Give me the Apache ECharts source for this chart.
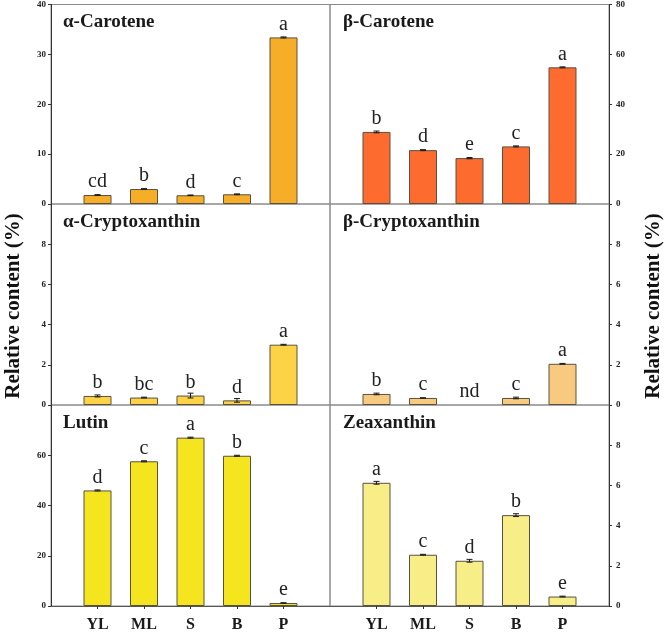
<!DOCTYPE html>
<html>
<head>
<meta charset="utf-8">
<script src="https://cdn.jsdelivr.net/npm/echarts@6/dist/echarts.min.js"></script>
<style>
html,body{margin:0;padding:0;background:#fff;}
#c{width:666px;height:633px;}
</style>
</head>
<body>
<div id="c"></div>
<script>
// ---------------- data ----------------
const categories = ['YL', 'ML', 'S', 'B', 'P'];

const aCarotene = [1.8, 3.0, 1.75, 1.95, 33.4];
const aCaroteneErr = [0.08, 0.08, 0.06, 0.08, 0.1];
const aCaroteneSig = ['cd', 'b', 'd', 'c', 'a'];

const bCarotene = [28.9, 21.6, 18.4, 23.1, 54.8];
const bCaroteneErr = [0.35, 0.2, 0.25, 0.2, 0.2];
const bCaroteneSig = ['b', 'd', 'e', 'c', 'a'];

const aCryptoxanthin = [0.45, 0.37, 0.47, 0.23, 3.0];
const aCryptoxanthinErr = [0.05, 0.02, 0.12, 0.09, 0.02];
const aCryptoxanthinSig = ['b', 'bc', 'b', 'd', 'a'];

const bCryptoxanthin = [0.55, 0.35, 0, 0.35, 2.05];
const bCryptoxanthinErr = [0.04, 0.01, 0, 0.04, 0.02];
const bCryptoxanthinSig = ['b', 'c', 'nd', 'c', 'a'];

const lutin = [46.0, 57.6, 67.0, 59.8, 1.2];
const lutinErr = [0.2, 0.2, 0.2, 0.2, 0.1];
const lutinSig = ['d', 'c', 'a', 'b', 'e'];

const zeaxanthin = [6.13, 2.55, 2.25, 4.52, 0.47];
const zeaxanthinErr = [0.07, 0.02, 0.07, 0.07, 0.02];
const zeaxanthinSig = ['a', 'c', 'd', 'b', 'e'];

const yMax = [40, 80, 10, 10, 80, 10];
const yInterval = [10, 20, 2, 2, 20, 2];
const titles = ['α-Carotene', 'β-Carotene', 'α-Cryptoxanthin', 'β-Cryptoxanthin', 'Lutin', 'Zeaxanthin'];
const yAxisTitle = 'Relative content (%)';

// ---------------- layout / style ----------------
const colors = ['#F6AD27', '#FD6B2F', '#FDD346', '#F7CA80', '#F5E51F', '#F7EE88'];
const values = [aCarotene, bCarotene, aCryptoxanthin, bCryptoxanthin, lutin, zeaxanthin];
const errs = [aCaroteneErr, bCaroteneErr, aCryptoxanthinErr, bCryptoxanthinErr, lutinErr, zeaxanthinErr];
const sigs = [aCaroteneSig, bCaroteneSig, aCryptoxanthinSig, bCryptoxanthinSig, lutinSig, zeaxanthinSig];

const SERIF = '"Liberation Serif","Times New Roman",serif';
const axisCats = [''].concat(categories).concat(['']);
const colLeft = [51, 330];
const colWidth = 279;
const rowTop = [4, 204, 405];
const rowHeight = [200, 201, 202];

const chart = echarts.init(document.getElementById('c'), null, {renderer: 'canvas'});

const grids = [], xAxes = [], yAxes = [], series = [], graphics = [];

for (let i = 0; i < 6; i++) {
  const row = Math.floor(i / 2), col = i % 2;
  grids.push({
    left: colLeft[col], top: rowTop[row], width: colWidth, height: rowHeight[row],
    show: true, borderColor: '#8a8a8a', borderWidth: 1, containLabel: false
  });
  const isBottom = row === 2;
  xAxes.push({
    type: 'category', gridIndex: i, data: axisCats, boundaryGap: false,
    axisLine: {show: isBottom, lineStyle: {color: '#555', width: 1}},
    axisTick: {show: isBottom, length: 3, lineStyle: {color: '#333'},
      interval: function (idx) { return idx > 0 && idx < axisCats.length - 1; }},
    axisLabel: {show: isBottom, margin: 11, fontFamily: SERIF, fontWeight: 'bold', fontSize: 16, color: '#1a1a1a',
      interval: 0},
    splitLine: {show: false}
  });
  yAxes.push({
    type: 'value', gridIndex: i, min: 0, max: yMax[i], interval: yInterval[i],
    position: col === 0 ? 'left' : 'right',
    axisLine: {show: true, lineStyle: {color: '#333', width: 1}},
    axisTick: {show: true, length: 3, lineStyle: {color: '#333'}},
    axisLabel: {show: true, margin: col === 0 ? 5 : 7, fontFamily: SERIF, fontWeight: 'bold', fontSize: 9, color: '#222',
      showMaxLabel: row === 0, showMinLabel: true},
    splitLine: {show: false}
  });

  const vals = values[i], er = errs[i], sg = sigs[i];
  const barData = ['-'].concat(vals.map(function (v) {
    return v === 0 ? {value: 0, itemStyle: {borderWidth: 0, color: 'rgba(0,0,0,0)'}} : v;
  })).concat(['-']);
  series.push({
    type: 'bar', xAxisIndex: i, yAxisIndex: i, barWidth: 28, data: barData,
    itemStyle: {color: colors[i], borderColor: '#5a5040', borderWidth: 1},
    label: {
      show: true, position: 'top', distance: 3,
      fontFamily: SERIF, fontSize: 20, color: '#222',
      formatter: function (p) { return sg[p.dataIndex - 1] || ''; }
    },
    animation: false, z: 2
  });
  const errData = vals.map(function (v, k) { return [k + 1, v, er[k]]; }).filter(function (d) { return d[2] > 0; });
  series.push({
    type: 'custom', xAxisIndex: i, yAxisIndex: i, data: errData, z: 3, animation: false,
    encode: {x: 0, y: 1},
    renderItem: function (params, api) {
      const x = api.value(0), v = api.value(1), e = api.value(2);
      const top = api.coord([x, v + e]);
      const bot = api.coord([x, v - e]);
      const hw = 3;
      const st = {stroke: '#1a1a1a', lineWidth: 1};
      return {type: 'group', children: [
        {type: 'line', shape: {x1: top[0], y1: top[1], x2: bot[0], y2: bot[1]}, style: st},
        {type: 'line', shape: {x1: top[0] - hw, y1: top[1], x2: top[0] + hw, y2: top[1]}, style: st},
        {type: 'line', shape: {x1: bot[0] - hw, y1: bot[1], x2: bot[0] + hw, y2: bot[1]}, style: st}
      ]};
    }
  });

  graphics.push({
    type: 'text', left: colLeft[col] + (col === 0 ? 12 : 13), top: rowTop[row] + 9,
    style: {text: titles[i], font: 'bold 19px ' + SERIF, fill: '#1a1a1a'}
  });
}

graphics.push({
  type: 'text', x: 14, y: 306, rotation: Math.PI / 2,
  style: {text: yAxisTitle, font: 'bold 21px ' + SERIF, fill: '#111', align: 'center', verticalAlign: 'middle'}
});
graphics.push({
  type: 'text', x: 654, y: 306, rotation: Math.PI / 2,
  style: {text: yAxisTitle, font: 'bold 21px ' + SERIF, fill: '#111', align: 'center', verticalAlign: 'middle'}
});

chart.setOption({
  backgroundColor: '#fff',
  animation: false,
  grid: grids,
  xAxis: xAxes,
  yAxis: yAxes,
  series: series,
  graphic: graphics
});
</script>
</body>
</html>
